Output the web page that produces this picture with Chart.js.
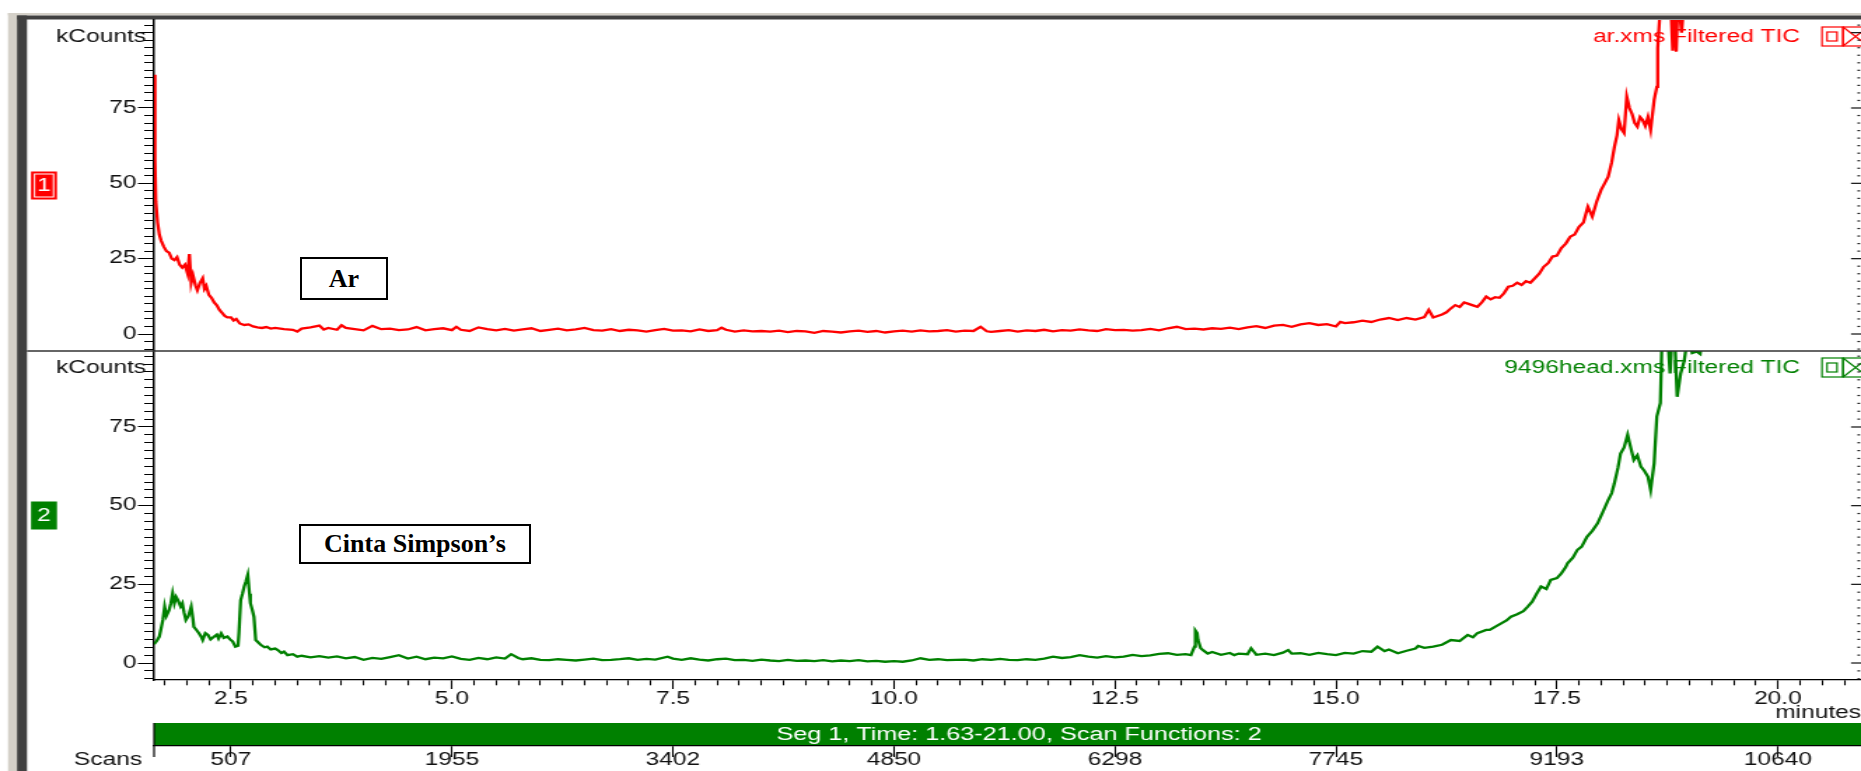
<!DOCTYPE html>
<html>
<head>
<meta charset="utf-8">
<script src="https://cdn.jsdelivr.net/npm/chart.js@4.4.1/dist/chart.umd.min.js"></script>
<style>
  html, body { margin: 0; padding: 0; background: #fff; }
  #wrap { position: relative; width: 1861px; height: 771px; overflow: hidden; background: #fff; }
  #tic { position: absolute; left: 0; top: 0; }
  .note {
    position: absolute; box-sizing: border-box; border: 2px solid #000; background: #fff;
    font: bold 26px "Liberation Serif", "Times New Roman", serif; color: #000;
    display: flex; align-items: center; justify-content: center; white-space: nowrap;
  }
</style>
</head>
<body>
<div id="wrap">
  <!-- drawn narrow and stretched sideways, like the original screen grab -->
  <canvas id="tic" width="1329" height="771" style="width:1861px;height:771px"></canvas>
  <div class="note" style="left:300px;top:257px;width:88px;height:43px;">Ar</div>
  <div class="note" style="left:299px;top:524px;width:232px;height:40px;">Cinta Simpson’s</div>
</div>
<script>
// ar.xms trace (minutes, kCounts)
const arTimes = [
  1.63, 1.64, 1.65, 1.67, 1.69, 1.71, 1.74, 1.77, 1.80, 1.83,
  1.86, 1.89, 1.92, 1.95, 1.98, 2.01, 2.03, 2.05, 2.07, 2.10,
  2.12, 2.15, 2.18, 2.20, 2.22, 2.25, 2.28, 2.31, 2.34, 2.37,
  2.40, 2.43, 2.46, 2.50, 2.53, 2.56, 2.60, 2.65, 2.70, 2.75,
  2.80, 2.85, 2.90, 2.95, 3.00, 3.10, 3.20, 3.25, 3.30, 3.40,
  3.50, 3.55, 3.60, 3.70, 3.75, 3.80, 3.90, 4.00, 4.10, 4.20,
  4.30, 4.40, 4.50, 4.60, 4.70, 4.80, 4.90, 5.00, 5.05, 5.10,
  5.20, 5.30, 5.40, 5.50, 5.60, 5.70, 5.80, 5.90, 6.00, 6.10,
  6.20, 6.30, 6.40, 6.50, 6.60, 6.70, 6.80, 6.90, 7.00, 7.10,
  7.20, 7.30, 7.40, 7.50, 7.60, 7.70, 7.80, 7.90, 8.00, 8.05,
  8.10, 8.20, 8.30, 8.40, 8.50, 8.60, 8.70, 8.80, 8.90, 9.00,
  9.10, 9.20, 9.30, 9.40, 9.50, 9.60, 9.70, 9.80, 9.90, 10.00,
  10.10, 10.20, 10.30, 10.40, 10.50, 10.60, 10.70, 10.80, 10.90, 10.98,
  11.05, 11.10, 11.20, 11.30, 11.40, 11.50, 11.60, 11.70, 11.80, 11.90,
  12.00, 12.10, 12.20, 12.30, 12.40, 12.50, 12.60, 12.70, 12.80, 12.90,
  13.00, 13.10, 13.20, 13.30, 13.40, 13.50, 13.60, 13.70, 13.80, 13.90,
  14.00, 14.10, 14.20, 14.30, 14.40, 14.50, 14.60, 14.70, 14.80, 14.90,
  15.00, 15.05, 15.10, 15.20, 15.30, 15.40, 15.50, 15.60, 15.70, 15.80,
  15.90, 16.00, 16.05, 16.10, 16.20, 16.25, 16.30, 16.35, 16.40, 16.45,
  16.50, 16.55, 16.60, 16.65, 16.70, 16.75, 16.80, 16.85, 16.90, 16.95,
  17.00, 17.05, 17.10, 17.15, 17.20, 17.25, 17.30, 17.35, 17.40, 17.45,
  17.50, 17.55, 17.60, 17.65, 17.70, 17.75, 17.80, 17.85, 17.90, 17.95,
  18.00, 18.04, 18.08, 18.12, 18.15, 18.18, 18.20, 18.23, 18.26, 18.29,
  18.32, 18.35, 18.38, 18.41, 18.44, 18.47, 18.50, 18.53, 18.56, 18.60,
  18.63, 18.64, 18.66, 18.70, 18.75, 18.79, 18.81, 18.83, 18.85, 18.87,
  18.91, 18.95, 19.00, 19.50, 20.00, 20.50, 21.00
];
const arCounts = [
  86, 58, 44, 37, 33, 31, 29, 27.5, 27, 25,
  24.5, 25.5, 23, 22, 23, 20, 26.5, 17, 19.5, 16,
  14.5, 17, 18.5, 15, 16, 13, 12, 10.5, 9.5, 8,
  7, 6, 5.5, 5.5, 4.5, 5, 3.5, 3, 3.2, 2.5,
  2.2, 2, 2.3, 1.8, 2, 1.6, 1.4, 0.8, 1.8, 2.2,
  2.8, 1.5, 2, 1.4, 2.9, 2, 1.6, 1.2, 2.7, 1.6,
  1.8, 1.3, 1.5, 2.3, 1.2, 1.6, 1.9, 1.3, 2.4, 1.4,
  1.0, 2.2, 1.6, 1.2, 1.7, 1.1, 1.5, 1.9, 1.0, 1.4,
  1.8, 1.2, 1.5, 2.0, 1.3, 1.1, 1.6, 1.0, 1.4, 1.2,
  0.8, 1.3, 1.7, 1.1, 1.2, 0.9, 1.5, 1.0, 1.3, 2.1,
  1.4, 0.8, 1.2, 0.9, 1.0, 0.8, 1.1, 0.6, 1.0, 0.9,
  0.4, 1.0, 0.8, 0.5, 0.9, 1.1, 0.7, 1.0, 0.5, 0.9,
  1.1, 0.8, 1.2, 0.9, 1.0, 1.3, 0.8, 1.1, 1.0, 2.4,
  0.9, 0.7, 1.0, 1.3, 0.8, 1.2, 1.0, 1.4, 0.9, 1.3,
  1.1, 1.5, 1.2, 1.0, 1.6, 1.3, 1.4, 1.1, 1.3, 1.7,
  1.2, 1.9, 2.4, 1.6, 1.8, 1.5, 1.9, 1.7, 2.1, 1.6,
  2.2, 2.6, 2.0, 2.8, 3.0, 2.4, 3.2, 3.6, 3.0, 3.3,
  2.5, 4.0, 3.6, 3.9, 4.4, 4.0, 4.8, 5.3, 4.6, 5.3,
  4.8, 5.6, 8.0, 5.5, 6.5, 7.2, 8.5, 9.6, 9.0, 10.5,
  10.0, 9.5, 9.0, 10.5, 12.4, 11.5, 12.2, 12.0, 13.5, 15.7,
  16.0, 17.0, 16.3, 17.5, 17.0, 18.5, 20.0, 22.3, 23.5, 25.7,
  26.0, 28.5, 30.0, 32.3, 33.0, 35.6, 37.0, 42.2, 39.0, 44.0,
  47.8, 50.0, 52.2, 57.0, 62.0, 66.0, 71.0, 68.0, 66.7, 78.8,
  75.0, 73.0, 70.0, 68.8, 72.0, 71.0, 69.0, 72.0, 67.7, 77.7,
  82.0, 95.0, 104.0, 115.0, 112.0, 108.0, 94.0, 110.0, 93.7, 112.0,
  100.0, 115.0, 125.0, 150.0, 170.0, 190.0, 200.0
];

// 9496head.xms trace (minutes, kCounts)
const headTimes = [
  1.63, 1.66, 1.69, 1.71, 1.73, 1.75, 1.77, 1.80, 1.82, 1.84,
  1.86, 1.88, 1.90, 1.93, 1.95, 1.97, 1.99, 2.02, 2.05, 2.07,
  2.08, 2.11, 2.14, 2.16, 2.18, 2.21, 2.24, 2.27, 2.31, 2.34,
  2.36, 2.39, 2.42, 2.46, 2.49, 2.52, 2.55, 2.58, 2.59, 2.61,
  2.63, 2.65, 2.67, 2.69, 2.71, 2.72, 2.74, 2.76, 2.78, 2.81,
  2.84, 2.88, 2.91, 2.95, 3.00, 3.03, 3.07, 3.10, 3.14, 3.20,
  3.25, 3.30, 3.40, 3.50, 3.60, 3.70, 3.80, 3.90, 4.00, 4.10,
  4.20, 4.30, 4.40, 4.50, 4.60, 4.70, 4.80, 4.90, 5.00, 5.10,
  5.20, 5.30, 5.40, 5.50, 5.60, 5.67, 5.75, 5.80, 5.90, 6.00,
  6.10, 6.20, 6.30, 6.40, 6.50, 6.60, 6.70, 6.80, 6.90, 7.00,
  7.10, 7.20, 7.30, 7.44, 7.50, 7.60, 7.70, 7.80, 7.90, 8.00,
  8.10, 8.20, 8.30, 8.40, 8.50, 8.60, 8.70, 8.80, 8.90, 9.00,
  9.10, 9.20, 9.30, 9.40, 9.50, 9.60, 9.70, 9.80, 9.90, 10.00,
  10.10, 10.20, 10.30, 10.40, 10.50, 10.60, 10.70, 10.80, 10.90, 11.00,
  11.10, 11.20, 11.30, 11.40, 11.50, 11.60, 11.70, 11.80, 11.90, 12.00,
  12.10, 12.20, 12.30, 12.40, 12.50, 12.60, 12.70, 12.80, 12.90, 13.00,
  13.10, 13.20, 13.30, 13.36, 13.40, 13.41, 13.43, 13.44, 13.47, 13.50,
  13.55, 13.60, 13.70, 13.80, 13.85, 13.90, 14.00, 14.04, 14.10, 14.20,
  14.30, 14.40, 14.46, 14.50, 14.60, 14.70, 14.80, 14.90, 15.00, 15.10,
  15.20, 15.30, 15.40, 15.47, 15.55, 15.60, 15.70, 15.80, 15.90, 15.93,
  16.00, 16.10, 16.20, 16.30, 16.40, 16.49, 16.55, 16.60, 16.70, 16.74,
  16.80, 16.87, 16.93, 16.98, 17.05, 17.12, 17.17, 17.22, 17.27, 17.32,
  17.38, 17.43, 17.50, 17.55, 17.60, 17.62, 17.68, 17.73, 17.78, 17.84,
  17.90, 17.96, 18.02, 18.08, 18.12, 18.15, 18.19, 18.22, 18.26, 18.30,
  18.33, 18.37, 18.41, 18.45, 18.49, 18.53, 18.56, 18.60, 18.63, 18.67,
  18.69, 18.74, 18.78, 18.82, 18.86, 18.90, 18.94, 18.98, 19.03, 19.08,
  19.12, 19.16, 19.50, 20.00, 20.50, 21.00
];
const headCounts = [
  6, 7, 8.4, 11, 13.7, 17.9, 15, 16.8, 19, 22.1,
  19, 21, 20, 18, 19, 16, 13.7, 15, 17.9, 14,
  11.5, 10.5, 9.4, 8.5, 7.3, 9.5, 8.9, 7.5, 8.4, 9,
  7.8, 9.4, 8, 8.4, 7.5, 6.8, 5.2, 5.5, 9.4, 20,
  22, 24.3, 26, 28, 22, 19, 17, 14.7, 7.3, 6.5,
  5.7, 5.0, 5.2, 4.3, 4.6, 4.1, 3.2, 3.6, 2.5, 2.8,
  2.0, 2.3, 1.8, 2.2, 1.7, 2.1, 1.5, 1.9, 1.0, 1.6,
  1.3, 1.9, 2.5, 1.4, 2.0, 1.2, 1.7, 1.5, 2.1, 1.3,
  1.0, 1.6, 1.2, 1.8, 1.4, 2.8, 1.6, 1.2, 1.5, 1.0,
  0.9, 1.2, 1.0, 0.8, 1.1, 1.4, 0.9, 1.0, 1.2, 1.5,
  1.0, 1.3, 1.1, 2.0, 1.4, 1.0, 1.5, 1.1, 0.8, 1.2,
  1.4, 0.9, 1.0, 0.7, 1.1, 0.8, 0.6, 1.0, 0.7, 0.8,
  0.6, 0.9, 0.5, 0.8, 0.6, 0.9, 0.5, 0.7, 0.4, 0.6,
  0.4, 0.8, 1.5, 1.0, 1.2, 0.9, 1.0, 1.1, 0.8, 1.2,
  1.0, 1.3, 1.0, 0.9, 1.2, 1.0, 1.4, 2.0, 1.6, 1.9,
  2.5, 2.0, 1.7, 2.2, 1.8, 2.0, 2.6, 2.2, 2.4, 2.9,
  3.1, 2.6, 2.8, 2.5, 5.2, 10.3, 9.5, 7.3, 4.7, 4.0,
  3.0, 3.5, 2.6, 3.2, 2.5, 3.0, 2.8, 4.7, 2.6, 3.0,
  2.5, 3.3, 4.1, 3.0, 3.1, 2.6, 3.2, 2.8, 2.5, 3.2,
  3.0, 3.8, 3.6, 5.2, 3.8, 4.3, 3.1, 3.9, 4.6, 5.4,
  4.8, 5.2, 5.8, 7.3, 7.0, 8.9, 8.2, 9.5, 10.5, 10.5,
  11.5, 12.6, 13.5, 14.7, 15.5, 16.5, 17.9, 19.5, 22.0, 24.3,
  23.5, 26.4, 27.0, 28.5, 30.5, 31.7, 33.5, 35.9, 37.0, 40.1,
  42.0, 44.4, 48.0, 51.8, 54.0, 57.1, 62.0, 66.6, 68.5, 72.5,
  69.0, 64.5, 66.0, 62.4, 61.0, 59.2, 55.0, 63.5, 78.3, 82.6,
  105, 110, 92, 112, 84.6, 92, 96, 104, 98.5, 99,
  98.2, 108, 130, 160, 185, 200
];

const minuteRange = [1.63, 20.94];
const arRange = [-5.64, 104.2];
const headRange = [-5.4, 99.15];
const scanLabels = ['507', '1955', '3402', '4850', '6298', '7745', '9193', '10640'];
const traceNames = ['ar.xms Filtered TIC', '9496head.xms Filtered TIC'];
const segText = 'Seg 1, Time: 1.63-21.00, Scan Functions: 2';

const FONT = '"Liberation Sans", Arial, sans-serif';
const RED = '#ff0000';
const GREEN = '#008000';
const S = 1861 / 1329;           // css stretch of the canvas
const px = v => v / S;           // screen x -> canvas x

const isMultiple = (v, step) => Math.abs(v / step - Math.round(v / step)) < 1e-6;

function paneAxis(range, weight, stackWeight) {
  return {
    type: 'linear',
    position: 'left',
    stack: 'panes',
    stackWeight: stackWeight,
    weight: weight,
    min: range[0],
    max: range[1],
    border: { color: '#000', width: 1.5 },
    grid: {
      drawOnChartArea: false,
      tickLength: 11.5,
      tickColor: '#000',
      tickWidth: 1,
      // short minor ticks, long ones every 25
      tickBorderDash: (c) => (c.tick && !isMultiple(c.tick.value, 25)) ? [0, 4.5, 30] : []
    },
    ticks: {
      stepSize: 2.5,
      includeBounds: false,
      autoSkip: false,
      padding: 1,
      color: '#111',
      font: { family: FONT, size: 17.5 },
      callback: (v) => (isMultiple(v, 25) && v >= 0 && v <= 75) ? String(Math.round(v)) : ''
    },
    afterFit: (s) => { s.width = 110; }
  };
}

const chrome = {
  id: 'chrome',
  beforeDraw(chart) {
    const { ctx, chartArea, scales } = chart;
    ctx.save();
    // window frame
    ctx.fillStyle = '#d4d0c8';
    ctx.fillRect(px(8), 13, chart.width, 2.5);
    ctx.fillRect(px(8), 13, px(9), chart.height);
    ctx.fillStyle = '#404040';
    ctx.fillRect(px(17), 15.5, chart.width, 4);
    ctx.fillRect(px(17), 15.5, px(10), chart.height);

    // segment bar between the two time axes
    const barTop = scales.x.top + 43;
    const barBottom = scales.scans.top;
    ctx.fillStyle = GREEN;
    ctx.fillRect(chartArea.left, barTop, chartArea.right - chartArea.left, barBottom - barTop);
    ctx.fillStyle = '#fff';
    ctx.font = `18px ${FONT}`;
    ctx.textAlign = 'center';
    ctx.textBaseline = 'middle';
    ctx.fillText(segText, px(1019), (barTop + barBottom) / 2 + 0.5);
    ctx.strokeStyle = '#000';
    ctx.lineWidth = 1.2;
    ctx.beginPath();
    ctx.moveTo(chartArea.left, barTop);
    ctx.lineTo(chartArea.left, barBottom + 11);
    ctx.stroke();
    ctx.restore();
  },
  beforeDatasetDraw(chart, args) {
    // keep each trace inside its own pane
    const y = chart.scales[args.meta.yAxisID];
    const { ctx, chartArea } = chart;
    ctx.save();
    ctx.beginPath();
    ctx.rect(chartArea.left, y.top, chartArea.right - chartArea.left, y.bottom - y.top);
    ctx.clip();
  },
  afterDatasetDraw(chart) {
    chart.ctx.restore();
  },
  afterDraw(chart) {
    const { ctx, scales } = chart;
    ctx.save();
    ctx.font = `17.5px ${FONT}`;
    ctx.textBaseline = 'middle';

    // divider between panes
    ctx.strokeStyle = '#333';
    ctx.lineWidth = 1.5;
    ctx.beginPath();
    ctx.moveTo(px(27), scales.yTop.bottom);
    ctx.lineTo(chart.width, scales.yTop.bottom);
    ctx.stroke();

    const panes = [
      { scale: scales.yTop, color: RED, badge: '1', name: traceNames[0], ring: true },
      { scale: scales.yBot, color: GREEN, badge: '2', name: traceNames[1], ring: false }
    ];
    panes.forEach(p => {
      const s = p.scale;
      const mid = (s.top + s.bottom) / 2;

      ctx.fillStyle = p.color;
      ctx.fillRect(px(31), mid - 14, px(26), 28);
      if (p.ring) {
        ctx.strokeStyle = '#fff';
        ctx.lineWidth = 1;
        ctx.strokeRect(px(31) + 2.5, mid - 11.5, px(26) - 5, 23);
      }
      ctx.fillStyle = '#fff';
      ctx.textAlign = 'center';
      ctx.fillText(p.badge, px(44), mid + 1);

      ctx.fillStyle = '#111';
      ctx.textAlign = 'right';
      ctx.fillText('kCounts', px(146), s.top + 17);

      ctx.fillStyle = p.color;
      ctx.fillText(p.name, px(1800), s.top + 17);

      // little window buttons
      const by = s.top + 7;
      ctx.strokeStyle = p.color;
      ctx.lineWidth = 1.2;
      ctx.strokeRect(px(1822), by, px(21), 19);
      ctx.strokeRect(px(1827), by + 5, px(10), 9);
      ctx.strokeRect(px(1843), by, px(25), 19);
      ctx.beginPath();
      ctx.moveTo(px(1843), by);
      ctx.lineTo(px(1868), by + 19);
      ctx.moveTo(px(1868), by);
      ctx.lineTo(px(1843), by + 19);
      ctx.stroke();

      // right-hand tick marks
      ctx.fillStyle = '#111';
      s.ticks.forEach(t => {
        const y = s.getPixelForValue(t.value);
        if (isMultiple(t.value, 25)) ctx.fillRect(px(1851), y - 0.6, px(10), 1.2);
        else ctx.fillRect(px(1857.5), y - 0.6, px(2.5), 1.2);
      });
    });

    ctx.fillStyle = '#111';
    ctx.textAlign = 'right';
    ctx.fillText('minutes', chart.width, scales.x.top + 33);
    ctx.fillText('Scans', px(142), scales.scans.top + 14);
    ctx.restore();
  }
};

Chart.defaults.font.family = FONT;

new Chart(document.getElementById('tic'), {
  type: 'line',
  data: {
    datasets: [
      {
        label: traceNames[0],
        data: arTimes.map((t, i) => ({ x: t, y: arCounts[i] })),
        xAxisID: 'x',
        yAxisID: 'yTop',
        borderColor: RED,
        borderWidth: 2.3,
        pointRadius: 0,
        fill: false,
        tension: 0
      },
      {
        label: traceNames[1],
        data: headTimes.map((t, i) => ({ x: t, y: headCounts[i] })),
        xAxisID: 'x',
        yAxisID: 'yBot',
        borderColor: GREEN,
        borderWidth: 2.3,
        pointRadius: 0,
        fill: false,
        tension: 0
      }
    ]
  },
  options: {
    responsive: false,
    devicePixelRatio: 1,
    animation: false,
    events: [],
    layout: { padding: { top: 20, left: 0, right: 0, bottom: 0 } },
    plugins: {
      legend: { display: false },
      tooltip: { enabled: false }
    },
    scales: {
      x: {
        type: 'linear',
        position: 'bottom',
        weight: 0,
        min: minuteRange[0],
        max: minuteRange[1],
        border: { color: '#000', width: 1.3 },
        grid: {
          drawOnChartArea: false,
          tickLength: 9,
          tickColor: '#000',
          tickWidth: 1.1,
          tickBorderDash: (c) => (c.tick && !isMultiple(c.tick.value, 2.5)) ? [5, 30] : []
        },
        ticks: {
          stepSize: 0.25,
          includeBounds: false,
          autoSkip: false,
          maxRotation: 0,
          minRotation: 0,
          padding: 0,
          color: '#111',
          font: { family: FONT, size: 17.5 },
          callback: (v) => isMultiple(v, 2.5) ? v.toFixed(1) : ''
        },
        afterFit: (s) => { s.height = 66; }
      },
      scans: {
        type: 'linear',
        position: 'bottom',
        weight: 1,
        min: minuteRange[0],
        max: minuteRange[1],
        border: { color: '#000', width: 1.2 },
        grid: { drawOnChartArea: false, tickLength: 11, tickColor: '#000', tickWidth: 1.1 },
        ticks: {
          stepSize: 2.5,
          includeBounds: false,
          autoSkip: false,
          maxRotation: 0,
          minRotation: 0,
          padding: -7,
          color: '#111',
          font: { family: FONT, size: 17.5 },
          callback: (v, i) => scanLabels[i] !== undefined ? scanLabels[i] : ''
        },
        afterFit: (s) => { s.height = 25; }
      },
      yTop: paneAxis(arRange, 1, 331),
      yBot: paneAxis(headRange, 0, 329)
    }
  },
  plugins: [chrome]
});
</script>
</body>
</html>
